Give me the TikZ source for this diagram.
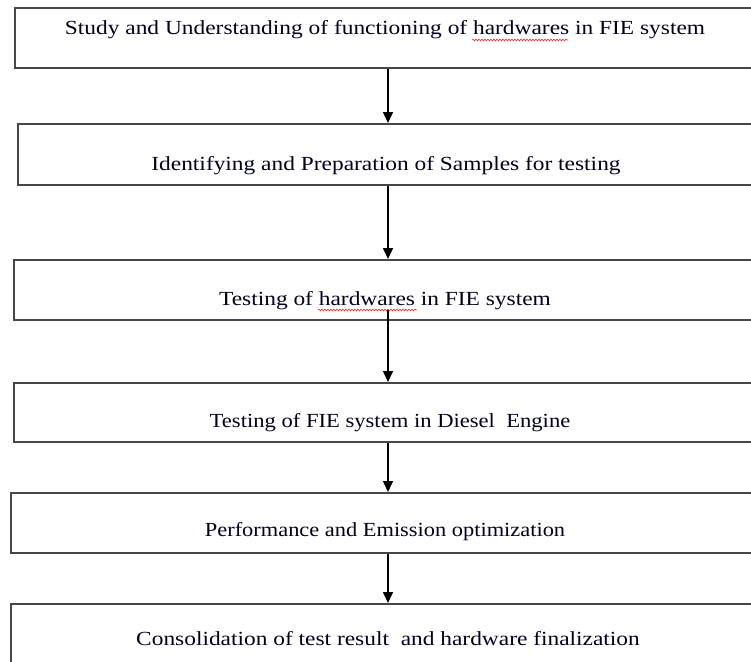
\documentclass[tikz,border=0pt]{standalone}
\usepackage{fontspec}
\setmainfont{Liberation Serif}
\usetikzlibrary{arrows.meta,decorations.pathmorphing}
\newcommand{\wid}[1]{\scalebox{1.17}[1]{#1}}
\begin{document}
\begin{tikzpicture}[x=1pt,y=-1pt,
  box/.style={draw=black!72,line width=1.7pt,rectangle,inner sep=0pt,anchor=north west},
  lbl/.style={anchor=base,inner sep=0pt,font=\fontsize{20}{24}\selectfont,text=black!88!blue},
  arr/.style={draw=black,line width=1.5pt,-{Triangle[width=10pt,length=11pt]}},
  squig/.style={draw=red!85,line width=0.6pt,decorate,decoration={snake,amplitude=0.9pt,segment length=3pt}}]
\useasboundingbox (0,0) rectangle (751,661);
\clip (0,0) rectangle (751,661);
\fill[white] (0,0) rectangle (751,661);
\node[box,minimum width=760,minimum height=60] (b1) at (14,7) {};
\node[box,minimum width=760,minimum height=61] (b2) at (17,123) {};
\node[box,minimum width=760,minimum height=60] (b3) at (13,259) {};
\node[box,minimum width=760,minimum height=59] (b4) at (13,382) {};
\node[box,minimum width=760,minimum height=60] (b5) at (10,492) {};
\node[box,minimum width=760,minimum height=70] (b6) at (10,603) {};
\node[lbl] (t1) at (385,35) {\wid{Study and Understanding of functioning of hardwares in FIE system}};
\node[lbl] (t2) at (386,170) {\wid{Identifying and Preparation of Samples for testing}};
\node[lbl] (t3) at (385,305) {\wid{Testing of hardwares in FIE system}};
\node[lbl] (t4) at (390,427) {\scalebox{1.13}[1]{Testing of FIE system in Diesel\ \ Engine}};
\node[lbl] (t5) at (385,536) {\scalebox{1.12}[1]{Performance and Emission optimization}};
\node[lbl] (t6) at (388,645) {\wid{Consolidation of test result\ \ and hardware finalization}};
\coordinate (ax) at (388,0);
\coordinate (s3) at (388,310);
\draw[arr] (b1.south -| ax) -- (b2.north -| ax);
\draw[arr] (b2.south -| ax) -- (b3.north -| ax);
\draw[arr] (s3) -- (b4.north -| ax);
\draw[arr] (b4.south -| ax) -- (b5.north -| ax);
\draw[arr] (b5.south -| ax) -- (b6.north -| ax);
\coordinate (q1a) at (472,40); \coordinate (q1b) at (568,40);
\coordinate (q3a) at (318,310); \coordinate (q3b) at (417,310);
\draw[squig] (q1a) -- (q1b);
\draw[squig] (q3a) -- (q3b);
\end{tikzpicture}
\end{document}
